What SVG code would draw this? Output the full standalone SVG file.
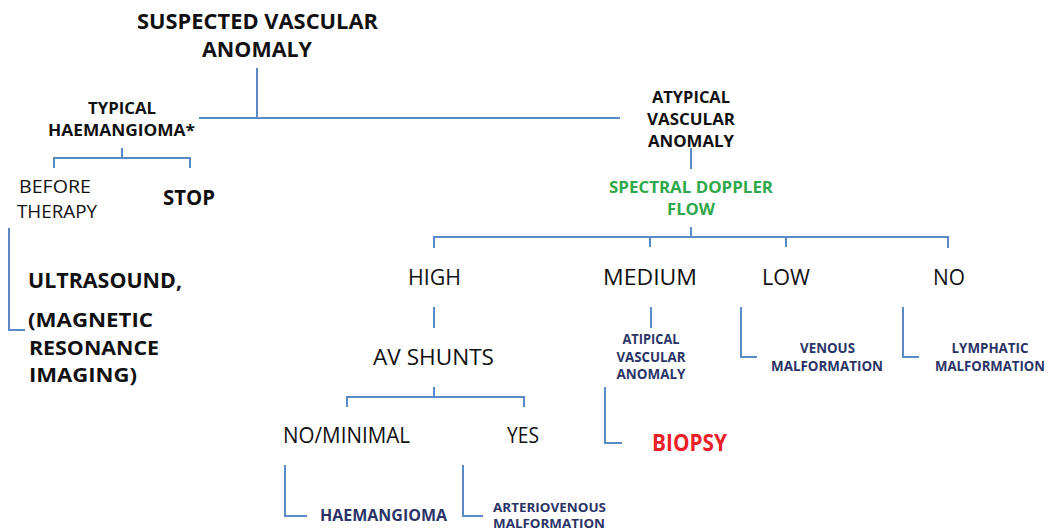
<svg xmlns="http://www.w3.org/2000/svg" width="1050" height="532" viewBox="0 0 1050 532">
<style>
text{font-family:"Open Sans","Liberation Sans",sans-serif;fill:#111}
.b{font-weight:bold}
.c{text-anchor:middle}
.n{fill:#2b3467;font-weight:bold}
.g{fill:#2ea84a;font-weight:bold}
.r{fill:#ec2127;font-weight:bold}
.ln{fill:none;stroke:#5b8bc7;stroke-width:2}
</style>
<rect width="1050" height="532" fill="#fff"/>
<g id="connectors" class="ln">
<path d="M257,68V118"/>
<path d="M199,118H620"/>
<path d="M122,148V158"/>
<path d="M54,168V158H190V168"/>
<path d="M9,228V330H25"/>
<path d="M691,148V169"/>
<path d="M691,227V237"/>
<path d="M434,248V237H948V248"/>
<path d="M650,237V247"/>
<path d="M786,237V247"/>
<path d="M434,307V328"/>
<path d="M434,387V397"/>
<path d="M347,407V397H524V407"/>
<path d="M285,465V516H307"/>
<path d="M463,465V516H483"/>
<path d="M651,307V328"/>
<path d="M605,387V443H622"/>
<path d="M741,307V357H757"/>
<path d="M903,307V357H919"/>
</g>
<g id="n-suspected"><text class="b c" x="257.5" y="29" font-size="21" textLength="241" lengthAdjust="spacingAndGlyphs">SUSPECTED VASCULAR</text><text class="b c" x="257" y="57" font-size="21" textLength="110" lengthAdjust="spacingAndGlyphs">ANOMALY</text></g>
<g id="n-typical"><text class="b c" x="122" y="114" font-size="16.5" textLength="68" lengthAdjust="spacingAndGlyphs">TYPICAL</text><text class="b c" x="121.5" y="136" font-size="16.5" textLength="147" lengthAdjust="spacingAndGlyphs">HAEMANGIOMA*</text></g>
<g id="n-before"><text class="c" x="55" y="193" font-size="18.5" textLength="72" lengthAdjust="spacingAndGlyphs">BEFORE</text><text class="c" x="57" y="218" font-size="18.5" textLength="80" lengthAdjust="spacingAndGlyphs">THERAPY</text></g>
<g id="n-stop"><text class="b c" x="189" y="205" font-size="21" textLength="52" lengthAdjust="spacingAndGlyphs">STOP</text></g>
<g id="n-imaging"><text class="b" x="28" y="288" font-size="20.5" textLength="154" lengthAdjust="spacingAndGlyphs">ULTRASOUND,</text><text class="b" x="28" y="327" font-size="20" textLength="125" lengthAdjust="spacingAndGlyphs">(MAGNETIC</text><text class="b" x="29" y="355" font-size="20" textLength="130" lengthAdjust="spacingAndGlyphs">RESONANCE</text><text class="b" x="29" y="382" font-size="20" textLength="108" lengthAdjust="spacingAndGlyphs">IMAGING)</text></g>
<g id="n-atypical"><text class="b c" x="691" y="103" font-size="16" textLength="78" lengthAdjust="spacingAndGlyphs">ATYPICAL</text><text class="b c" x="691" y="125" font-size="16" textLength="88" lengthAdjust="spacingAndGlyphs">VASCULAR</text><text class="b c" x="691" y="147" font-size="16" textLength="86" lengthAdjust="spacingAndGlyphs">ANOMALY</text></g>
<g id="n-doppler"><text class="g c" x="691" y="193" font-size="16.5" textLength="164" lengthAdjust="spacingAndGlyphs">SPECTRAL DOPPLER</text><text class="g c" x="691" y="215" font-size="16.5" textLength="48" lengthAdjust="spacingAndGlyphs">FLOW</text></g>
<g id="n-high"><text class="c" x="434.5" y="285" font-size="21.5" textLength="53" lengthAdjust="spacingAndGlyphs">HIGH</text></g>
<g id="n-medium"><text class="c" x="650" y="285" font-size="21.5" textLength="94" lengthAdjust="spacingAndGlyphs">MEDIUM</text></g>
<g id="n-low"><text class="c" x="786" y="285" font-size="21.5" textLength="48" lengthAdjust="spacingAndGlyphs">LOW</text></g>
<g id="n-no"><text class="c" x="949" y="285" font-size="21.5" textLength="32" lengthAdjust="spacingAndGlyphs">NO</text></g>
<g id="n-avshunts"><text class="c" x="433.5" y="365" font-size="21.5" textLength="121" lengthAdjust="spacingAndGlyphs">AV SHUNTS</text></g>
<g id="n-nominimal"><text class="c" x="346.5" y="443" font-size="21.5" textLength="127" lengthAdjust="spacingAndGlyphs">NO/MINIMAL</text></g>
<g id="n-yes"><text class="c" x="523" y="443" font-size="21.5" textLength="32" lengthAdjust="spacingAndGlyphs">YES</text></g>
<g id="n-haemangioma"><text class="n c" x="383.5" y="521" font-size="16" textLength="127" lengthAdjust="spacingAndGlyphs">HAEMANGIOMA</text></g>
<g id="n-avm"><text class="n c" x="549.5" y="512" font-size="13" textLength="113" lengthAdjust="spacingAndGlyphs">ARTERIOVENOUS</text><text class="n c" x="549" y="528" font-size="13" textLength="112" lengthAdjust="spacingAndGlyphs">MALFORMATION</text></g>
<g id="n-atipical"><text class="n c" x="651" y="344" font-size="14" textLength="57" lengthAdjust="spacingAndGlyphs">ATIPICAL</text><text class="n c" x="651" y="362" font-size="14" textLength="69" lengthAdjust="spacingAndGlyphs">VASCULAR</text><text class="n c" x="651" y="379" font-size="14" textLength="69" lengthAdjust="spacingAndGlyphs">ANOMALY</text></g>
<g id="n-biopsy"><text class="r c" x="689.5" y="451" font-size="23" textLength="75" lengthAdjust="spacingAndGlyphs">BIOPSY</text></g>
<g id="n-venous"><text class="n c" x="827.5" y="353" font-size="14" textLength="55" lengthAdjust="spacingAndGlyphs">VENOUS</text><text class="n c" x="827" y="371" font-size="14" textLength="112" lengthAdjust="spacingAndGlyphs">MALFORMATION</text></g>
<g id="n-lymphatic"><text class="n c" x="990" y="353" font-size="14" textLength="77" lengthAdjust="spacingAndGlyphs">LYMPHATIC</text><text class="n c" x="990" y="371" font-size="14" textLength="110" lengthAdjust="spacingAndGlyphs">MALFORMATION</text></g>
</svg>
